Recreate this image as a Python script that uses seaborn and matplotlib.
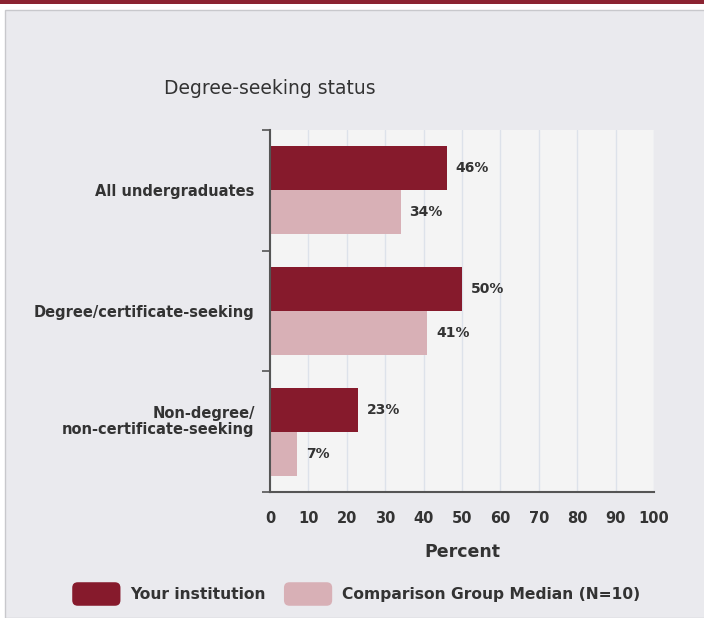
import matplotlib
matplotlib.use("Agg")
import matplotlib.pyplot as plt
import seaborn as sns
import pandas as pd
from matplotlib.patches import Rectangle, FancyBboxPatch
from matplotlib.legend_handler import HandlerPatch
from matplotlib.transforms import ScaledTranslation

# data
groups = ["All undergraduates", "Degree/certificate-seeking", "Non-degree/\nnon-certificate-seeking"]
your_inst = [46, 50, 23]
comparison = [34, 41, 7]
series = ["Your institution", "Comparison Group Median (N=10)"]

dark = "#861a2c"
light = "#d8b0b6"
text_col = "#333333"

df = pd.DataFrame({
    "group": groups * 2,
    "value": your_inst + comparison,
    "series": [series[0]] * 3 + [series[1]] * 3,
})

sns.set_style("white")
plt.rcParams["font.family"] = ["DejaVu Sans"]

fig = plt.figure(figsize=(7.04, 6.18), dpi=100)
fig.patch.set_facecolor("white")

# grey panel + top red band
fig.patches.append(Rectangle((5 / 704, 0), 1, 1 - 10 / 618, transform=fig.transFigure,
                             facecolor="#eaeaee", edgecolor="#c8c8cc", lw=1, zorder=-2))
fig.patches.append(Rectangle((0, 1 - 4 / 618), 1, 4 / 618, transform=fig.transFigure,
                             facecolor="#8b2332", edgecolor="none", zorder=-2))

ax = fig.add_axes([270 / 704, 1 - 492 / 618, 384 / 704, 362 / 618])
ax.set_zorder(2)
ax.set_facecolor("#f4f4f4")

sns.barplot(data=df, y="group", x="value", hue="series", palette=[dark, light],
            orient="h", width=0.73, legend=False, ax=ax, saturation=1, linewidth=0)

for cont in ax.containers:
    ax.bar_label(cont, fmt="%d%%", padding=6.5, fontsize=10, fontweight="bold", color=text_col)

ax.set_xlim(0, 100)
ax.set_ylim(2.5, -0.5)
ax.set_xticks(range(0, 101, 10))
ax.grid(axis="x", color="#dde2ea", lw=1)
ax.set_axisbelow(True)

for s in ["top", "right"]:
    ax.spines[s].set_visible(False)
for s in ["left", "bottom"]:
    ax.spines[s].set_color("#555555")
    ax.spines[s].set_linewidth(1.5)

ax.tick_params(axis="x", length=0, pad=14, labelsize=10.5, labelcolor=text_col)
for lab in ax.get_xticklabels():
    lab.set_fontweight("bold")
ax.tick_params(axis="y", which="major", length=0, pad=11, labelsize=10.5, labelcolor=text_col)
ylabs = ax.get_yticklabels()
for lab in ylabs:
    lab.set_fontweight("bold")
    lab.set_linespacing(1.1)
ylabs[2].set_transform(ylabs[2].get_transform() + ScaledTranslation(0, 12 / 100, fig.dpi_scale_trans))
ax.set_yticks([-0.5, 0.5, 1.5, 2.5], minor=True)
ax.tick_params(axis="y", which="minor", length=6, width=1.2, color="#555555", left=True)

ax.set_ylabel("")
ax.set_xlabel("Percent", fontsize=12.5, fontweight="bold", color=text_col, labelpad=12)

fig.text(164 / 704, 1 - 89 / 618, "Degree-seeking status", ha="left", va="center",
         fontsize=13.5, color=text_col)


class RoundHandler(HandlerPatch):
    def create_artists(self, legend, orig_handle, xdescent, ydescent, width, height, fontsize, trans):
        p = FancyBboxPatch((-xdescent, -ydescent), width, height,
                           boxstyle="round,pad=0,rounding_size=4",
                           facecolor=orig_handle.get_facecolor(), edgecolor="none",
                           transform=trans)
        return [p]


handles = [Rectangle((0, 0), 1, 1, facecolor=dark), Rectangle((0, 0), 1, 1, facecolor=light)]
leg = fig.legend(handles, series, loc="center", bbox_to_anchor=(356 / 704, 1 - 594 / 618),
                 ncol=2, frameon=False, handlelength=3.1, handleheight=1.95,
                 handletextpad=0.6, columnspacing=1.2,
                 prop={"weight": "bold", "size": 11.2},
                 handler_map={Rectangle: RoundHandler()})
for t in leg.get_texts():
    t.set_color(text_col)

fig.savefig("out.png", dpi=100)
